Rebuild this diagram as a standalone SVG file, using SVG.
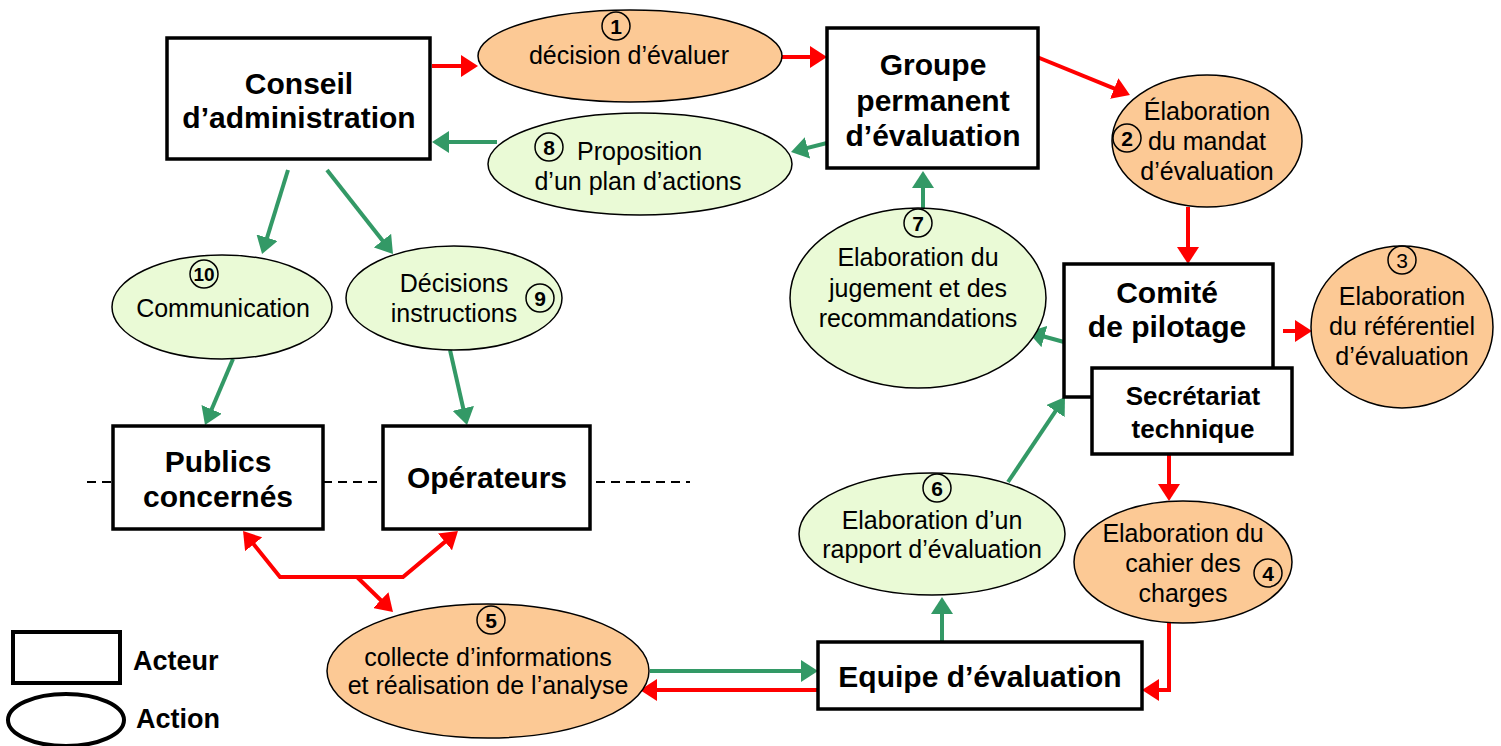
<svg xmlns="http://www.w3.org/2000/svg" width="1501" height="746" viewBox="0 0 1501 746">
<defs>
<style>
.box{fill:#fff;stroke:#000;stroke-width:3.5}
.ell{stroke:#000;stroke-width:1.5}
.or{fill:#FCC995}
.gr{fill:#EAFAD6}
.num{fill:none;stroke:#000;stroke-width:1.5}
.bt{font-family:"Liberation Sans",Arial,sans-serif;font-weight:bold;font-size:30px;text-anchor:middle;fill:#000}
.et{font-family:"Liberation Sans",Arial,sans-serif;font-size:25px;text-anchor:middle;fill:#000}
.nt{font-family:"Liberation Sans",Arial,sans-serif;font-weight:bold;font-size:21px;text-anchor:middle;fill:#000}
.red{fill:none;stroke:#FF0000;stroke-width:4}
.grn{fill:none;stroke:#339966;stroke-width:4}
.rA{marker-end:url(#ar)}
.gA{marker-end:url(#ag)}
</style>
<marker id="ar" markerUnits="userSpaceOnUse" markerWidth="17" markerHeight="22" refX="7" refY="11" orient="auto-start-reverse"><path d="M0,0 L17,11 L0,22 z" fill="#FF0000"/></marker>
<marker id="ag" markerUnits="userSpaceOnUse" markerWidth="17" markerHeight="22" refX="7" refY="11" orient="auto"><path d="M0,0 L17,11 L0,22 z" fill="#339966"/></marker>
</defs>
<rect width="1501" height="746" fill="#fff"/>

<g id="connectors">
<path class="red rA" d="M432,66 L468,66"/>
<path class="red rA" d="M782,57 L817,57"/>
<path class="red rA" d="M1037,57 L1120.7,91.2"/>
<path class="red rA" d="M1188,207 L1188,254"/>
<path class="red rA" d="M1283,331 L1302,331"/>
<path class="red rA" d="M1169,454 L1169,491"/>
<path class="red rA" d="M1169,623 L1169,690 L1152,690"/>
<path class="red rA" d="M818,690 L650,690"/>
<path class="red rA" d="M249.3,538.8 L280,577 L403,577 L450.3,537.4" marker-start="url(#ar)"/>
<path class="red rA" d="M357,577 L385.8,605"/>
<path class="grn gA" d="M497,142 L442,142"/>
<path class="grn gA" d="M827,143 L800.7,149.6"/>
<path class="grn gA" d="M923,208 L923,181"/>
<path class="grn gA" d="M1064,342 L1037.6,334.7"/>
<path class="grn gA" d="M1008,482 L1059.4,405.3"/>
<path class="grn gA" d="M942,642 L942,607"/>
<path class="grn gA" d="M288,170 L265,244.4"/>
<path class="grn gA" d="M327,170 L386.8,246.1"/>
<path class="grn gA" d="M233,359 L208.9,415.8"/>
<path class="grn gA" d="M450,350 L464.8,415.2"/>
<path class="grn gA" d="M650,671 L808,671"/>
<path d="M87,482 L113,482 M323,482 L383,482 M596,482 L690,482" fill="none" stroke="#000" stroke-width="2" stroke-dasharray="9 6"/>
</g>

<g id="conseil">
<rect class="box" x="167" y="38" width="263" height="121"/>
<text class="bt" x="299" y="94">Conseil</text>
<text class="bt" x="299" y="128">d’administration</text>
</g>
<g id="groupe">
<rect class="box" x="827" y="28" width="211" height="140"/>
<text class="bt" x="933" y="75">Groupe</text>
<text class="bt" x="933" y="111">permanent</text>
<text class="bt" x="933" y="146">d’évaluation</text>
</g>
<g id="comite">
<rect class="box" x="1064" y="264" width="209" height="133"/>
<text class="bt" x="1167" y="303">Comité</text>
<text class="bt" x="1167" y="337">de pilotage</text>
</g>
<g id="secretariat">
<rect class="box" x="1092" y="368" width="200" height="86"/>
<text class="bt" x="1193" y="405" style="font-size:26px">Secrétariat</text>
<text class="bt" x="1193" y="438" style="font-size:26px">technique</text>
</g>
<g id="publics">
<rect class="box" x="113" y="426" width="210" height="103"/>
<text class="bt" x="218" y="472">Publics</text>
<text class="bt" x="218" y="507">concernés</text>
</g>
<g id="operateurs">
<rect class="box" x="383" y="426" width="207" height="103"/>
<text class="bt" x="487" y="488">Opérateurs</text>
</g>
<g id="equipe">
<rect class="box" x="818" y="642" width="324" height="67"/>
<text class="bt" x="980" y="687">Equipe d’évaluation</text>
</g>

<g id="a1">
<ellipse class="ell or" cx="630" cy="56" rx="152" ry="46"/>
<circle class="num" cx="616" cy="26" r="14"/>
<text class="nt" x="616" y="33.5">1</text>
<text class="et" x="629" y="64">décision d’évaluer</text>
</g>
<g id="a8">
<ellipse class="ell gr" cx="640" cy="164" rx="152" ry="51"/>
<circle class="num" cx="549" cy="147" r="14"/>
<text class="nt" x="549" y="154.5">8</text>
<text class="et" x="577" y="160" style="text-anchor:start">Proposition</text>
<text class="et" x="638" y="190">d’un plan d’actions</text>
</g>
<g id="a2">
<ellipse class="ell or" cx="1207" cy="141" rx="95" ry="66"/>
<circle class="num" cx="1127" cy="138" r="14"/>
<text class="nt" x="1127" y="145.5">2</text>
<text class="et" x="1207" y="120">Élaboration</text>
<text class="et" x="1207" y="150">du mandat</text>
<text class="et" x="1207" y="180">d’évaluation</text>
</g>
<g id="a3">
<ellipse class="ell or" cx="1402" cy="327" rx="91" ry="81"/>
<circle class="num" cx="1402" cy="260" r="14"/>
<text class="nt" x="1402" y="267.5" style="font-weight:normal">3</text>
<text class="et" x="1402" y="305">Elaboration</text>
<text class="et" x="1402" y="335">du référentiel</text>
<text class="et" x="1402" y="365">d’évaluation</text>
</g>
<g id="a7">
<ellipse class="ell gr" cx="918" cy="298" rx="128" ry="90"/>
<circle class="num" cx="918" cy="223" r="14"/>
<text class="nt" x="918" y="230.5">7</text>
<text class="et" x="918" y="266">Elaboration du</text>
<text class="et" x="918" y="296.5">jugement et des</text>
<text class="et" x="918" y="327">recommandations</text>
</g>
<g id="a10">
<ellipse class="ell gr" cx="222" cy="307" rx="110" ry="52"/>
<circle class="num" cx="204" cy="274" r="14"/>
<text class="nt" x="204" y="281" style="font-size:19px">10</text>
<text class="et" x="223" y="317">Communication</text>
</g>
<g id="a9">
<ellipse class="ell gr" cx="454" cy="298" rx="108" ry="52"/>
<circle class="num" cx="540" cy="298" r="14"/>
<text class="nt" x="540" y="305.5">9</text>
<text class="et" x="454" y="292">Décisions</text>
<text class="et" x="454" y="322">instructions</text>
</g>
<g id="a6">
<ellipse class="ell gr" cx="932" cy="534" rx="133" ry="61"/>
<circle class="num" cx="937" cy="488" r="14"/>
<text class="nt" x="937" y="495.5">6</text>
<text class="et" x="932" y="529">Elaboration d’un</text>
<text class="et" x="932" y="558">rapport d’évaluation</text>
</g>
<g id="a4">
<ellipse class="ell or" cx="1183" cy="562" rx="109" ry="61"/>
<circle class="num" cx="1268" cy="573" r="14"/>
<text class="nt" x="1268" y="580.5">4</text>
<text class="et" x="1183" y="542">Elaboration du</text>
<text class="et" x="1183" y="572">cahier des</text>
<text class="et" x="1183" y="602">charges</text>
</g>
<g id="a5">
<ellipse class="ell or" cx="488" cy="671" rx="161" ry="67"/>
<circle class="num" cx="491" cy="620" r="14"/>
<text class="nt" x="491" y="627.5">5</text>
<text class="et" x="488" y="666">collecte d’informations</text>
<text class="et" x="488" y="694">et réalisation de l’analyse</text>
</g>

<g id="legend">
<rect x="13" y="632" width="107" height="51" fill="#fff" stroke="#000" stroke-width="4"/>
<text x="133" y="670" style="font-family:'Liberation Sans',Arial,sans-serif;font-weight:bold;font-size:27px">Acteur</text>
<ellipse cx="66" cy="720" rx="58" ry="26" fill="#fff" stroke="#000" stroke-width="4"/>
<text x="136" y="728" style="font-family:'Liberation Sans',Arial,sans-serif;font-weight:bold;font-size:27px">Action</text>
</g>
</svg>
